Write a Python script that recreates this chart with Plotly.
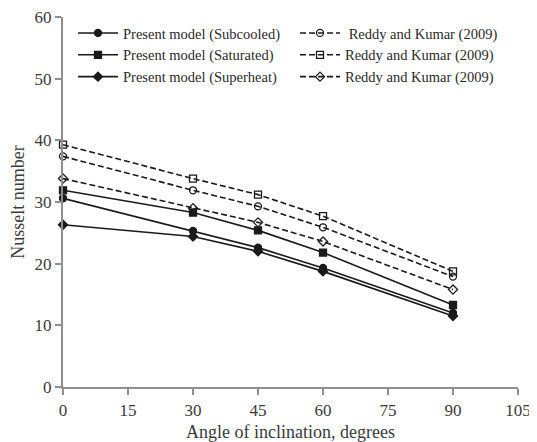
import plotly.graph_objects as go

angles = [0, 30, 45, 60, 90]

present_subcooled = [30.6, 25.3, 22.6, 19.3, 12.0]
present_saturated = [31.9, 28.3, 25.4, 21.8, 13.3]
present_superheat = [26.3, 24.4, 22.0, 18.75, 11.5]

reddy_subcooled = [37.4, 31.9, 29.3, 25.9, 17.9]
reddy_saturated = [39.3, 33.8, 31.2, 27.7, 18.75]
reddy_superheat = [33.8, 29.0, 26.7, 23.6, 15.8]

x_ticks = [0, 15, 30, 45, 60, 75, 90, 105]
y_ticks = [0, 10, 20, 30, 40, 50, 60]

LINE = "#1a1a1a"
AX = "#8f8f8f"
FONT = "Liberation Serif"

series = [
    ("Present model (Subcooled)", present_subcooled, "solid", "circle"),
    (" Reddy and Kumar (2009)", reddy_subcooled, "6px,3px", "circle-open"),
    ("Present model (Saturated)", present_saturated, "solid", "square"),
    ("Reddy and Kumar (2009)", reddy_saturated, "6px,3px", "square-open"),
    ("Present model (Superheat)", present_superheat, "solid", "diamond"),
    ("Reddy and Kumar (2009) ", reddy_superheat, "6px,3px", "diamond-open"),
]

fig = go.Figure()
for name, vals, dash, sym in series:
    fig.add_trace(go.Scatter(
        x=angles, y=vals, name=name, mode="lines+markers",
        line=dict(color=LINE, width=1.6, dash=dash),
        marker=dict(symbol=sym, size=7, color=LINE, line=dict(color=LINE, width=1.3)),
        cliponaxis=False,
    ))

# page body adds an 8px margin; figure is sized/offset to compensate
fig.update_layout(
    width=529, height=434,
    margin=dict(l=55, r=19, t=9, b=55, autoexpand=False),
    paper_bgcolor="white", plot_bgcolor="white",
    font=dict(family=FONT, size=17, color="#3a3a3a"),
    showlegend=True,
    legend=dict(
        orientation="h", x=0.022, y=1.0, xanchor="left", yanchor="top",
        entrywidth=167, entrywidthmode="pixels",
        font=dict(family=FONT, size=14.5, color="#2a2a2a"),
        bgcolor="rgba(0,0,0,0)", itemwidth=40,
    ),
    xaxis=dict(
        range=[0, 105], tickvals=x_ticks, ticks="outside", ticklen=6,
        tickcolor=AX, tickwidth=1.5, showline=True, linecolor=AX, linewidth=2,
        showgrid=False, zeroline=False, ticklabelstandoff=1, automargin=False,
        ticklabeloverflow="allow",
        title=dict(text="Angle of inclination, degrees", standoff=8, font=dict(size=18)),
    ),
    yaxis=dict(
        range=[0, 60], tickvals=y_ticks, ticks="outside", ticklen=6,
        tickcolor=AX, tickwidth=1.5, showline=True, linecolor=AX, linewidth=2,
        showgrid=False, zeroline=False, automargin=False,
        ticklabeloverflow="allow",
        title=dict(text="Nusselt number", standoff=6, font=dict(size=18)),
    ),
)

fig.write_html("out.html")
